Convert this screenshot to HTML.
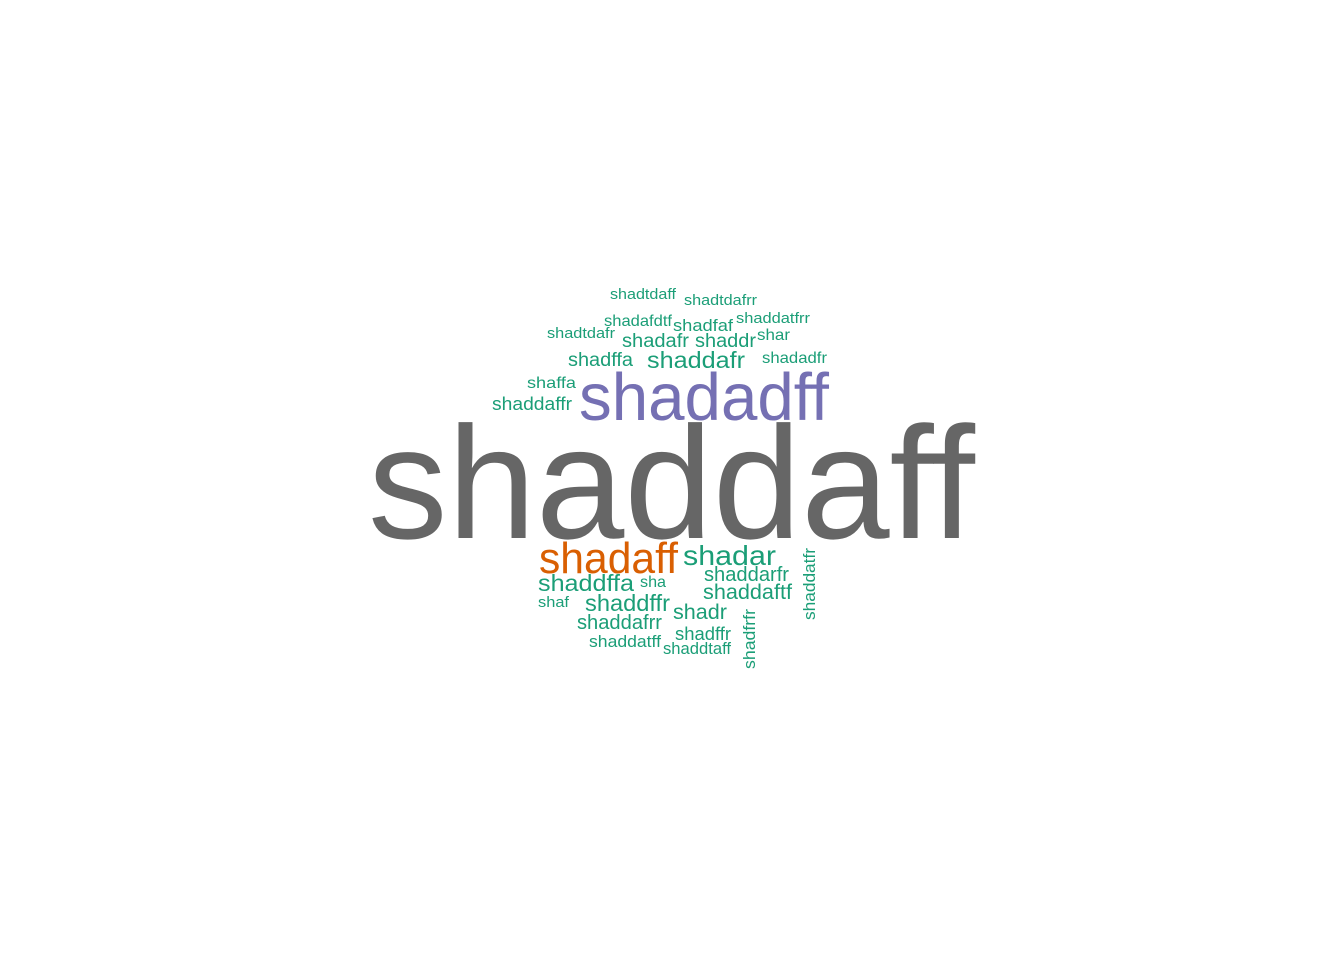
<!DOCTYPE html>
<html><head><meta charset="utf-8"><style>
html,body{margin:0;padding:0;background:#fff;width:1344px;height:960px;overflow:hidden}
svg text{font-family:"Liberation Sans",Arial,sans-serif}
</style></head><body>
<svg id="cloud" width="1344" height="960" xmlns="http://www.w3.org/2000/svg"></svg>
<script>
const words=["shaddaff","shadadff","shadaff","shadar","shaddarfr","shaddaftf","shaddffa","sha","shaf","shaddffr","shadr","shaddafrr","shadffr","shaddatff","shaddtaff","shadfrfr","shaddatfr","shadtdaff","shadtdafrr","shadafdtf","shadfaf","shaddatfrr","shadtdafr","shadafr","shaddr","shar","shadffa","shaddafr","shadadfr","shaffa","shaddaffr"];
const freqs=[160,67,44,28,20,21,23,16,15,23,21,20,18,17,17,17,17,15,15,16,17,15,15,19,19,16,19,23,16,16,18];
const colors=["#666666","#7570b3","#d95f02"];
// layout: [x, baseline y, width, rotated]
const layout=[[368,538,607,0],[579,420,250,0],[539,573,139,0],[683,565,93,0],[704,581,85,0],[703,599,89,0],[538,591,96,0],[640,587,26,0],[538,607,31,0],[585,611,85,0],[673,619,54,0],[577,629,85,0],[675,640,56,0],[589,647,72,0],[663,654,68,0],[755,669,60,1],[815,620,72,1],[610,299,66,0],[684,305,73,0],[604,326,68,0],[673,331,60,0],[736,323,74,0],[547,338,68,0],[622,347,67,0],[695,347,61,0],[757,340,33,0],[568,366,65,0],[647,368,98,0],[762,363,65,0],[527,388,49,0],[492,410,80,0]];
const svg=document.getElementById('cloud');
words.forEach((w,i)=>{
  const [x,y,wd,rot]=layout[i];
  const t=document.createElementNS('http://www.w3.org/2000/svg','text');
  
  
  t.setAttribute('font-size',freqs[i]);
  t.setAttribute('fill',i<3?colors[i]:'#1b9e77');
  t.setAttribute('textLength',wd);
  t.setAttribute('lengthAdjust','spacingAndGlyphs');
  if(rot){t.setAttribute('transform','translate('+x+','+y+') rotate(-90)');t.setAttribute('x',0);t.setAttribute('y',0);}
  else{t.setAttribute('x',x);t.setAttribute('y',y);}
  t.textContent=w;
  svg.appendChild(t);
});
</script>
</body></html>
